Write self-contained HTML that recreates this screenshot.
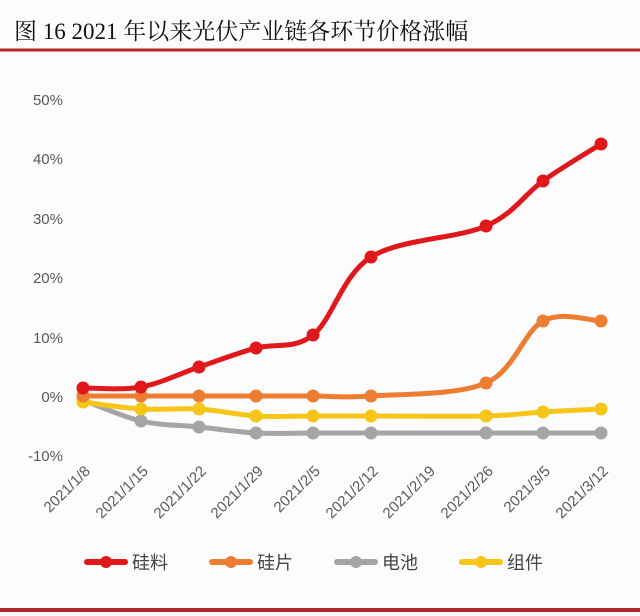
<!DOCTYPE html>
<html><head><meta charset="utf-8"><style>
body{margin:0;background:#fdfcfd;}
svg{display:block;font-family:"Liberation Sans","Noto Sans CJK SC",sans-serif;}
</style></head><body>
<svg id="s" width="640" height="616" viewBox="0 0 640 616">
<rect width="640" height="616" fill="#fdfcfd"/>
<text x="14" y="39" font-family="'Liberation Serif','Noto Serif CJK SC',serif" font-size="23" fill="#111">图 16 2021 年以来光伏产业链各环节价格涨幅</text>
<rect x="0" y="48.5" width="640" height="3" fill="#b3262b"/>
<rect x="0" y="608" width="640" height="4" fill="#b3262b"/>
<g font-size="15" fill="#595959" text-anchor="end">
<text x="63" y="105">50%</text>
<text x="63" y="164">40%</text>
<text x="63" y="224">30%</text>
<text x="63" y="283">20%</text>
<text x="63" y="343">10%</text>
<text x="63" y="402">0%</text>
<text x="63" y="461">-10%</text>
</g>
<g id="xl" font-size="15" fill="#595959" text-anchor="end"></g>
<g id="lines"></g>
<g font-size="18" fill="#444">
<line x1="87" y1="562" x2="125" y2="562" stroke="#e0181c" stroke-width="6" stroke-linecap="round"/><circle cx="106" cy="562" r="6" fill="#e0181c"/><text x="132" y="569">硅料</text>
<line x1="212" y1="562" x2="250" y2="562" stroke="#ed7d31" stroke-width="6" stroke-linecap="round"/><circle cx="231" cy="562" r="6" fill="#ed7d31"/><text x="257" y="569">硅片</text>
<line x1="337" y1="562" x2="375" y2="562" stroke="#a5a5a5" stroke-width="6" stroke-linecap="round"/><circle cx="356" cy="562" r="6" fill="#a5a5a5"/><text x="382" y="569">电池</text>
<line x1="462" y1="562" x2="500" y2="562" stroke="#f5c518" stroke-width="6" stroke-linecap="round"/><circle cx="481" cy="562" r="6" fill="#f5c518"/><text x="507" y="569">组件</text>
</g>
</svg>
<script>
var xs=[83,141,199,256,313,371,428,486,543,601];
var labels=["2021/1/8","2021/1/15","2021/1/22","2021/1/29","2021/2/5","2021/2/12","2021/2/19","2021/2/26","2021/3/5","2021/3/12"];
var xl=document.getElementById('xl'),h='';
labels.forEach(function(l,i){var x=xs[i]+8,y=472;h+='<text x="'+x+'" y="'+y+'" transform="rotate(-45 '+x+' '+y+')">'+l+'</text>';});
xl.innerHTML=h;
var series=[
["#a5a5a5",[400,421,427,433,433,433,null,433,433,433]],
["#f5c518",[402,409,409,416,416,416,null,416,412,409]],
["#ed7d31",[396,396,396,396,396,396,null,383,321,321]],
["#e0181c",[388,387,367,348,335,257,null,226,181,144]]];
var g='';
series.forEach(function(s){
 var p=[];s[1].forEach(function(y,i){if(y!==null)p.push([xs[i],y]);});
 var d='M'+p[0][0]+','+p[0][1];
 for(var i=0;i<p.length-1;i++){
  var p0=p[i-1]||p[i],p1=p[i],p2=p[i+1],p3=p[i+2]||p2,t=6;
  d+=' C'+(p1[0]+(p2[0]-p0[0])/t)+','+(p1[1]+(p2[1]-p0[1])/t)+' '+(p2[0]-(p3[0]-p1[0])/t)+','+(p2[1]-(p3[1]-p1[1])/t)+' '+p2[0]+','+p2[1];
 }
 g+='<path d="'+d+'" fill="none" stroke="'+s[0]+'" stroke-width="5" stroke-linejoin="round" stroke-linecap="round"/>';
 p.forEach(function(q){g+='<circle cx="'+q[0]+'" cy="'+q[1]+'" r="6.5" fill="'+s[0]+'"/>';});
});
document.getElementById('lines').innerHTML=g;
</script>
</body></html>
